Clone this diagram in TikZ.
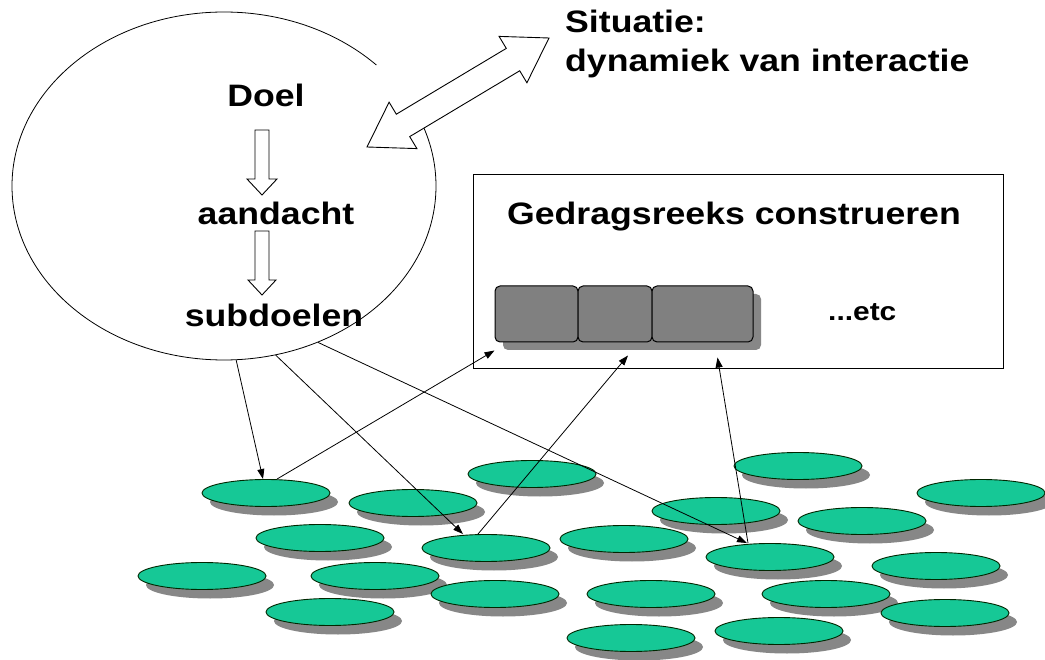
\documentclass[tikz,border=0pt]{standalone}
\usepackage{fontspec}
\setmainfont{Liberation Sans}[FakeStretch=1.15]
\usetikzlibrary{arrows.meta,calc,shapes.geometric}
\definecolor{padgreen}{RGB}{22,200,150}
\definecolor{shadowgray}{RGB}{135,135,135}
\definecolor{blockgray}{RGB}{128,128,128}
\begin{document}
\begin{tikzpicture}[x=1pt,y=-1pt,
  lab/.style={font=\fontsize{31}{37}\selectfont\bfseries, inner sep=0pt},
  pad/.style={ellipse, draw=black!85!green, line width=0.9pt, fill=padgreen, minimum width=128pt, minimum height=27pt, inner sep=0pt},
  padshadow/.style={ellipse, fill=shadowgray, minimum width=128pt, minimum height=27pt, inner sep=0pt},
  link/.style={line width=0.8pt, -{Triangle[length=10pt,width=7pt]}},
  hollow/.style={draw, fill=white, line width=0.9pt, line join=miter},
  blk/.style={draw, line width=1pt, fill=blockgray, rounded corners=5pt, minimum height=56pt, inner sep=0pt}]
\useasboundingbox (0,0) rectangle (1045,660);
\fill[white] (0,0) rectangle (1045,660);

% big goal ellipse
\node[ellipse, draw, line width=0.8pt, minimum width=424pt, minimum height=348pt, inner sep=0pt] (goal) at (224,186) {};
% gap in the ellipse outline next to the double arrow
\draw[white, line width=5pt] (376.5,65.1) -- (397.7,86.2) -- (412.9,107) -- (421.9,123.6);

% double hollow arrow
\draw[hollow] (367,147) -- (416.9,148.6) -- (409.7,136.6) -- (519.7,70.8) -- (526.9,82.8) -- (549,38)
  -- (499.1,36.4) -- (506.3,48.4) -- (396.3,114.2) -- (389.1,102.2) -- cycle;

% texts in ellipse
\node[lab, anchor=base] (doel) at (266,107) {Doel};
\node[lab, anchor=base] (aandacht) at (276,225) {aandacht};
\node[lab, anchor=base] (subdoelen) at (274,327) {subdoelen};

% small hollow arrows
\draw[hollow] (255,130) -- (269,130) -- (269,179) -- (277,179) -- (262,195) -- (247,179) -- (255,179) -- cycle;
\draw[hollow] (255,231) -- (269,231) -- (269,280) -- (276,280) -- (262,295) -- (248,280) -- (255,280) -- cycle;

% situation text
\node[lab, anchor=base west] (sit1) at (565,33) {Situatie:};
\node[lab, anchor=base west] (sit2) at (565,72) {dynamiek van interactie};

% box
\node[draw, line width=1pt, minimum width=530pt, minimum height=194pt, inner sep=0pt] (box) at (738,272) {};
\node[lab, anchor=base] (gedrag) at (734,225) {Gedragsreeks construeren};
\node[font=\fontsize{26}{30}\selectfont\bfseries, inner sep=0pt, anchor=base west] (etc) at (828,321) {...etc};

% blocks
\fill[shadowgray, rounded corners=5pt] (503,294) rectangle (761,350);
\node[blk, minimum width=83pt] (b1) at (536.5,314) {};
\node[blk, minimum width=74pt] (b2) at (615,314) {};
\node[blk, minimum width=101pt] (b3) at (702.5,314) {};

% pads
\def\padlist{1/266/493, 2/413/503, 3/532/474, 4/798/466, 5/981/493, 6/716/511, 7/862/521,
  8/320/538, 9/486/548, 10/624/539, 11/770/557, 12/936/566, 13/202/576, 14/375/576,
  15/495/594, 16/651/594, 17/826/594, 18/330/612, 19/945/613, 20/631/638, 21/779/631}
\foreach \i/\x/\y in \padlist { \node[padshadow] (s\i) at (\x+8,\y+9) {}; }
\foreach \i/\x/\y in \padlist { \node[pad] (e\i) at (\x,\y) {}; }

% connectors
\draw[link] (goal.274.6) -- ([xshift=-3pt]e1.north);
\draw[link] ([xshift=11pt]e1.north) -- ([yshift=-8pt]b1.south west);
\draw[link] (goal.287) -- ([xshift=-23pt]e9.north);
\draw[link] ([xshift=-8pt]e9.north) -- ([xshift=13pt,yshift=-13pt]b2.south);
\draw[link] (goal.301.4) -- ([xshift=-23pt]e11.north);
\draw[link] ([xshift=-22pt]e11.north) -- ([xshift=15pt,yshift=-15pt]b3.south);
\end{tikzpicture}
\end{document}
